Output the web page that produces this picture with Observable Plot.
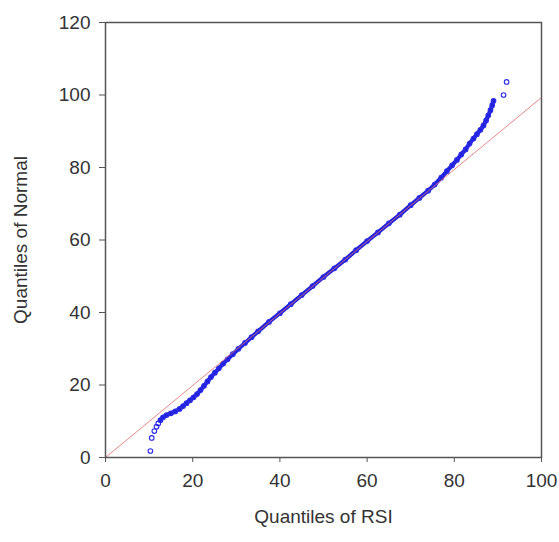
<!DOCTYPE html>
<html>
<head>
<meta charset="utf-8">
<script src="https://cdn.jsdelivr.net/npm/d3@7"></script>
<script src="https://cdn.jsdelivr.net/npm/@observablehq/plot@0.6"></script>
<style>
  html, body { margin: 0; padding: 0; background: #fff; }
</style>
</head>
<body>
<div id="chart"></div>
<script>
// Quantiles of RSI (x) vs quantiles of Normal (y)
const rsiQ = [
  10.3, 10.6, 11.2, 11.7, 12.1, 12.6, 13.2, 14.0, 15.0, 16.0,
  17.0, 17.8, 18.6, 19.4, 20.2, 21.0, 21.8, 22.6, 23.4, 24.2,
  25.1, 26.0, 27.0, 28.0, 29.2, 30.5, 32.0, 33.5,
  35.0, 37.5, 40.0, 42.5, 45.0, 47.5, 50.0, 52.5, 55.0,
  57.5, 60.0, 62.5, 65.0, 67.5, 70.0, 72.0, 74.0, 75.5, 77.0,
  78.3, 79.5, 80.6, 81.6, 82.6, 83.5, 84.4, 85.2, 86.0, 86.7,
  87.3, 87.8, 88.3, 88.7, 89.0, 91.3, 92.0
];
const normalQ = [
  1.8, 5.4, 7.3, 8.5, 9.4, 10.3, 11.1, 11.7, 12.2, 12.7,
  13.4, 14.2, 15.0, 15.8, 16.6, 17.5, 18.6, 19.8, 21.0, 22.2,
  23.4, 24.6, 25.9, 27.1, 28.5, 30.0, 31.6, 33.2,
  34.8, 37.4, 39.8, 42.3, 44.8, 47.3, 49.8, 52.2, 54.6,
  57.2, 59.7, 62.1, 64.6, 67.0, 69.6, 71.6, 73.6, 75.3, 77.2,
  79.0, 80.6, 82.1, 83.6, 85.0, 86.6, 88.0, 89.2, 90.4, 91.6,
  93.0, 94.4, 95.8, 97.2, 98.4, 100.0, 103.6
];
// reference line endpoints
const refX = [0, 100];
const refY = [0, 99.3];
const xTicks = [0, 20, 40, 60, 80, 100];
const yTicks = [0, 20, 40, 60, 80, 100, 120];

const pts = rsiQ.map((x, i) => ({x, y: normalQ[i]}));
const dense = pts.filter(d => d.x >= 12.6 && d.x <= 89.0);
const refLine = refX.map((x, i) => ({x, y: refY[i]}));

const chart = Plot.plot({
  width: 559,
  height: 542,
  marginLeft: 105,
  marginRight: 18,
  marginTop: 22,
  marginBottom: 85,
  style: {fontFamily: "'Liberation Sans', Arial, sans-serif", fontSize: "19px", color: "#333", background: "#fff"},
  x: {domain: [0, 100], axis: null},
  y: {domain: [0, 120], axis: null},
  marks: [
    Plot.axisX({ticks: xTicks, tickSize: 5, tickPadding: 11, label: null, stroke: "#555", fontSize: 19}),
    Plot.axisY({ticks: yTicks, tickSize: 6, tickPadding: 9, label: null, stroke: "#555", fontSize: 19}),
    Plot.line(dense, {x: "x", y: "y", stroke: "#2222dd", strokeWidth: 4.2, curve: "linear"}),
    Plot.dot(pts, {x: "x", y: "y", r: 2.3, stroke: "#2a2ae8", strokeWidth: 1.1, fill: "none"}),
    Plot.line(refLine, {x: "x", y: "y", stroke: "#e06a6a", strokeWidth: 1, strokeOpacity: 0.8}),
    Plot.frame({stroke: "#555", strokeWidth: 1.5}),
    Plot.text(["Quantiles of RSI"], {frameAnchor: "bottom", dy: 65, fontSize: 19, fill: "#333"}),
    Plot.text(["Quantiles of Normal"], {frameAnchor: "left", dx: -85, rotate: -90, textAnchor: "middle", fontSize: 19, fill: "#333"})
  ]
});
document.getElementById("chart").appendChild(chart);
</script>
</body>
</html>
